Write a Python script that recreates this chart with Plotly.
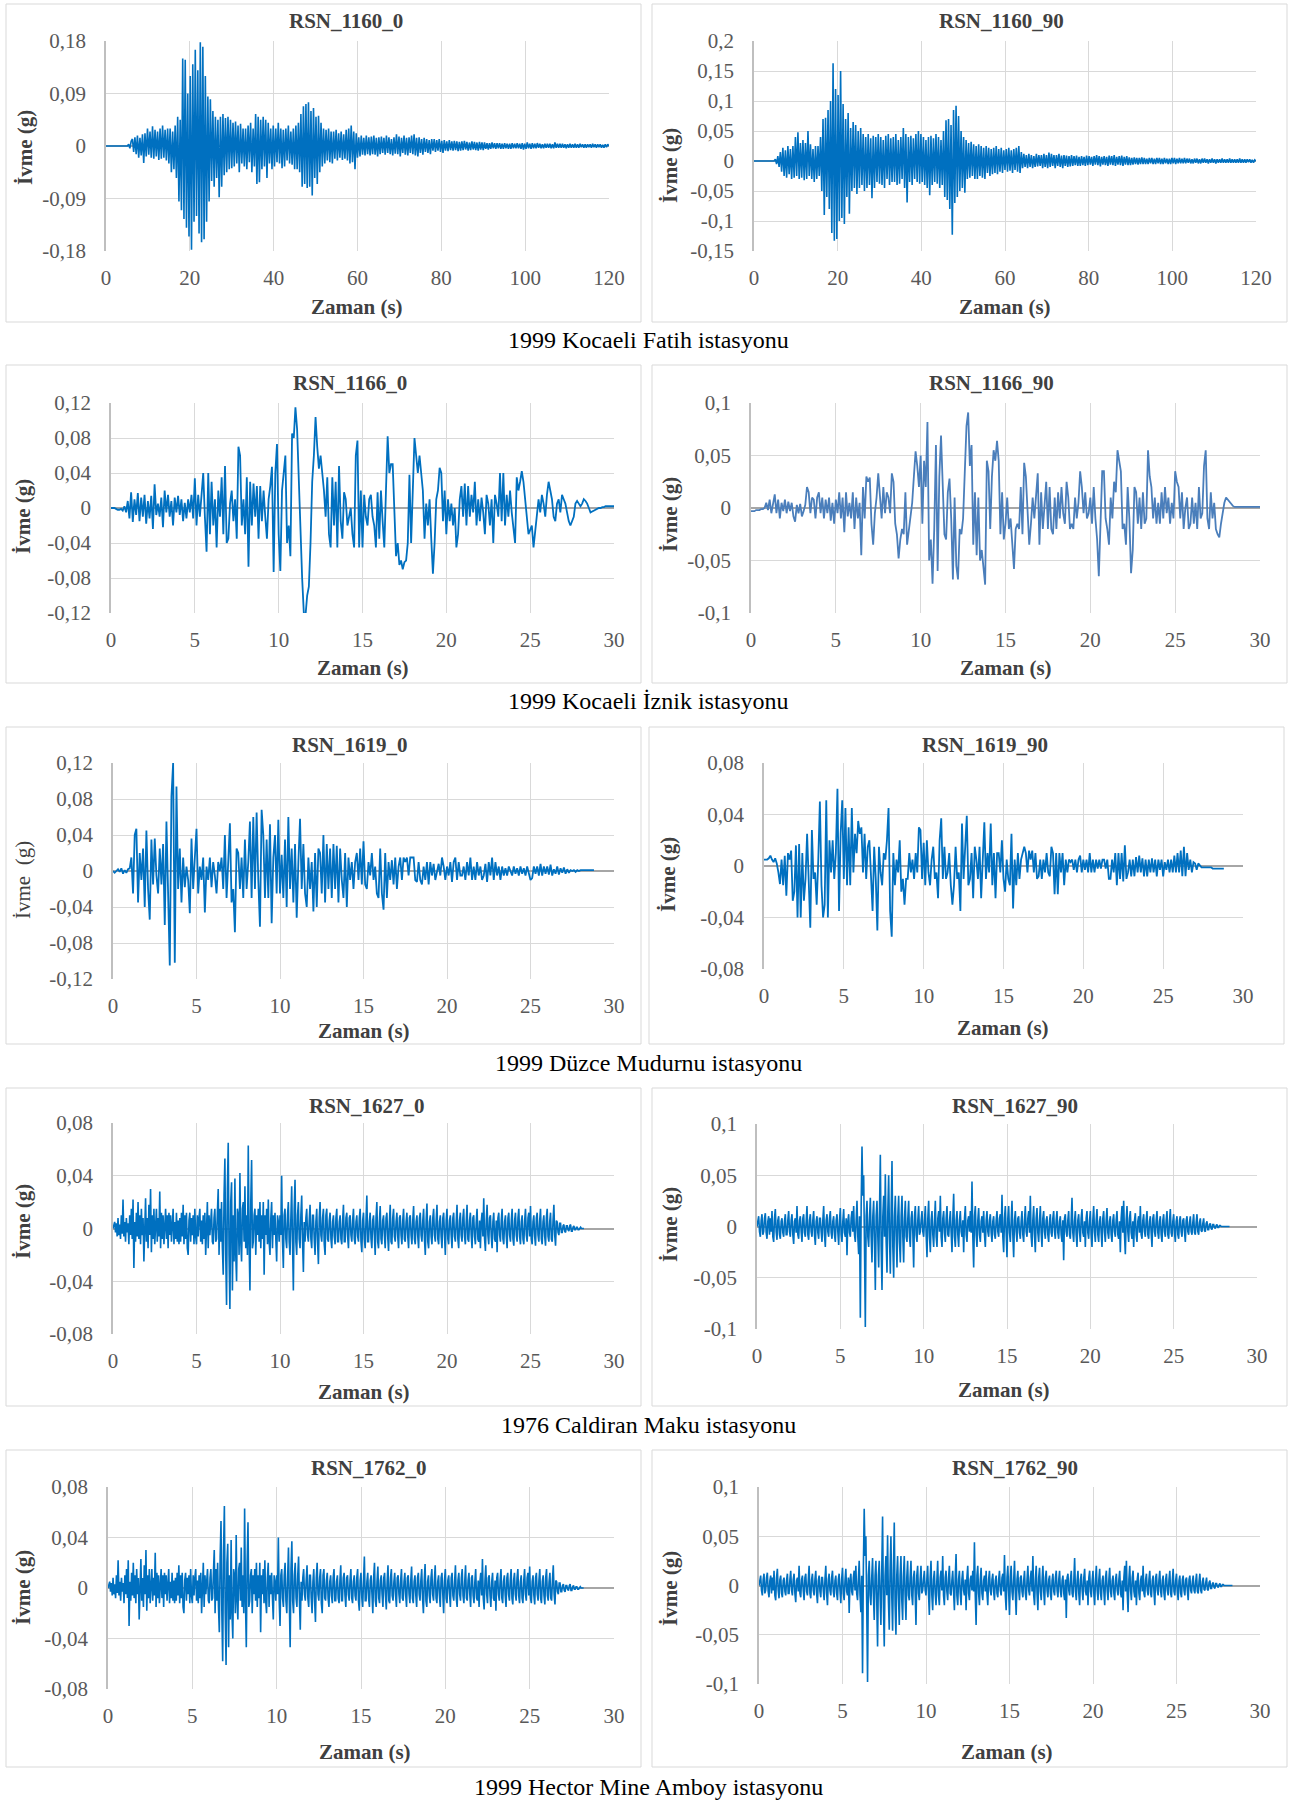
import plotly.graph_objects as go

W, H = 1298, 1803

# ---------------- DATA (acceleration in thousandths of g) ----------------
DT_1160 = 0.3   # s, sampling step used for the 120 s records
DT_30S = 0.1    # s, sampling step used for the 30 s records (1166, 1619)
DT_FINE = 0.05  # s, sampling step used for the 1627 / 1762 records

acc_1160_0 = [
    0, 0, 0, 0, 0, 0, 0, 0, 0, 0,
    0, 0, 0, 0, 0, 0, 0, 0,
    3, -4, 8,
    12, -10, 15, -14, 18, -20, 14, -16, 20, -29,
    22, -18, 30, -15, 25, -20, 34, -22, 28, -18,
    25, -24, 30, -22, 35, -20, 28, -25, 30, -30,
    30, -45, 25, -40, 35, -55, 50, -95, 45, -110,
    150, -125, 148, -140, 90, -155, 120, -178, 140, -130,
    165, -120, 130, -150, 178, -165, 170, -160, 120, -130,
    85, -95, 80, -60, 60, -70, 50, -55, 45, -88,
    50, -70, 55, -50, 48, -45, 50, -40, 45, -38,
    40, -35, 42, -30, 35, -45, 38, -30, 30, -35,
    30, -40, 35, -28, 40, -45, 30, -35, 55, -65,
    50, -62, 45, -40, 50, -35, 45, -55, 40, -30,
    30, -40, 35, -35, 30, -28, 40, -30, 30, -38,
    28, -35, 30, -25, 35, -30, 25, -32, 30, -40,
    35, -40, 40, -45, 55, -70, 68, -65, 72, -72,
    75, -70, 60, -85, 65, -55, 50, -65, 52, -45,
    40, -35, 30, -30, 28, -25, 30, -28, 25, -30,
    25, -22, 28, -25, 22, -20, 25, -24, 20, -22,
    28, -25, 30, -30, 35, -28, 25, -40, 22, -20,
    15, -18, 18, -15, 14, -16, 18, -14, 15, -16,
    16, -14, 18, -15, 14, -18, 15, -14, 16, -12,
    14, -15, 18, -12, 15, -14, 12, -16, 15, -13,
    20, -14, 16, -18, 14, -12, 18, -15, 14, -16,
    15, -12, 18, -14, 20, -16, 14, -18, 15, -12,
    12, -15, 14, -10, 12, -12, 10, -14, 12, -8,
    12, -10, 10, -8, 12, -10, 9, -12, 10, -8,
    8, -9, 10, -7, 8, -8, 9, -7, 8, -9,
    7, -8, 8, -7, 9, -6, 7, -8, 6, -7,
    8, -6, 7, -7, 6, -8, 7, -6, 6, -7,
    6, -5, 5, -6, 5, -5, 6, -4, 5, -5,
    5, -4, 5, -5, 4, -5, 5, -4, 4, -5,
    4, -5, 5, -4, 4, -4, 5, -4, 4, -5,
    5, -6, 4, -5, 6, -4, 4, -5, 5, -4,
    4, -4, 5, -3, 4, -4, 3, -4, 4, -3,
    4, -3, 4, -4, 3, -4, 6, -3, 4, -3,
    4, -3, 4, -3, 3, -4, 3, -3, 4, -3,
    3, -3, 4, -3, 3, -3, 4, -2, 3, -3,
    3, -3, 3, -2, 3, -3, 4, -2, 3, -3,
    3, -2, 3, -3, 2, -3, 3, -2, 3, 0,
]

acc_1160_90 = [
    0, 0, 0, 0, 0, 0, 0, 0, 0, 0,
    0, 0, 0, 0, 0, 0, 0,
    3, -5, 8, -10,
    15, -18, 22, -25, 18, -28, 25, -22, 20, -30,
    25, -28, 40, -25, 48, -30, 30, -28, 35, -32,
    30, -30, 50, -25, 28, -30, 20, -35, 25, -30,
    25, -25, 40, -50, 70, -90, 72, -60, 85, -80,
    100, -120, 163, -133, 120, -130, 110, -100, 150, -95,
    95, -105, 70, -60, 80, -88, 55, -50, 65, -45,
    60, -55, 50, -45, 55, -40, 45, -50, 40, -45,
    45, -40, 38, -62, 42, -45, 40, -35, 45, -38,
    40, -40, 35, -45, 42, -30, 45, -40, 38, -35,
    40, -35, 45, -40, 35, -38, 40, -30, 55, -45,
    45, -69, 40, -35, 42, -40, 38, -30, 45, -35,
    50, -38, 45, -35, 40, -40, 35, -45, 40, -57,
    42, -40, 38, -35, 45, -38, 40, -45, 35, -40,
    50, -60, 68, -65, 70, -80, 60, -123, 85, -70,
    92, -60, 75, -50, 50, -45, 40, -53, 35, -30,
    30, -28, 32, -25, 28, -30, 25, -30, 28, -25,
    25, -28, 22, -30, 25, -20, 22, -25, 20, -22,
    22, -20, 25, -22, 20, -18, 22, -20, 18, -15,
    20, -18, 22, -16, 18, -20, 20, -15, 22, -18,
    25, -20, 15, -12, 12, -10, 10, -12, 12, -10,
    10, -12, 8, -10, 12, -9, 10, -8, 10, -12,
    12, -10, 10, -12, 14, -10, 12, -8, 10, -12,
    10, -8, 12, -10, 9, -12, 10, -8, 9, -10,
    8, -9, 10, -8, 8, -7, 9, -8, 7, -8,
    8, -7, 7, -8, 9, -7, 8, -6, 7, -8,
    8, -6, 10, -7, 8, -9, 7, -6, 8, -7,
    7, -8, 9, -6, 8, -7, 10, -8, 7, -6,
    8, -7, 9, -8, 7, -6, 8, -7, 6, -7,
    5, -6, 6, -5, 5, -6, 5, -5, 6, -5,
    5, -5, 4, -5, 5, -4, 5, -5, 4, -5,
    5, -4, 5, -5, 4, -5, 5, -4, 4, -5,
    4, -5, 5, -4, 5, -5, 4, -4, 5, -4,
    4, -4, 5, -4, 4, -3, 4, -4, 3, -4,
    4, -3, 4, -4, 3, -4, 4, -3, 4, -3,
    3, -4, 3, -3, 4, -3, 3, -4, 3, -3,
    3, -3, 4, -3, 3, -3, 3, -3, 4, -3,
    3, -3, 3, -3, 3, -3, 4, -3, 3, -3,
    3, -3, 3, -2, 3, -3, 2, -3, 2, 0,
]

acc_1166_0 = [
    0, 0, 0, -1, -2, -2, -1, -3, 2, -5,
    8, -12, 18, -16, 10, -8, 17, -15, 12, -10,
    15, -18, 8, -12, 14, -24, 27, -8, 5, -10,
    12, -22, 20, -5, 15, -10, 8, -20, 12, -5,
    14, -8, 10, -15, 6, -12, 10, -5, 15, -12,
    34, -20, 15, -10, 20, 40, -10, -50, 40, -30,
    30, -20, 10, -45, 20, -10, 35, -30, 48, -40,
    -35, 5, 20, -15, 10, -35, 70, 60, -20, 10,
    -30, 35, -67, 30, -20, 28, -10, 25, -35, 25,
    -15, 20, -10, -35, 10, 25, 47, -73, 40, 73,
    -30, -72, 20, 40, 60, -40, -20, -55, 85, 80,
    115, 90, 30, -40, -80, -120, -123, -100, -90, -40,
    30, 60, 104, 70, 45, 60, 40, 20, -10, 35,
    -30, -45, 35, -20, 30, -45, 48, -15, -35, 18,
    10, -20, -10, 0, -30, -45, 60, 77, -45, 20,
    -45, 15, -10, -20, 10, 15, -10, -20, -45, 18,
    -35, 20, -15, -45, 20, 82, 40, 50, 50, -15,
    -55, -40, -65, -60, -70, -62, -60, -40, 38, -40,
    30, 80, 60, 40, 60, 40, 20, -35, 5, -20,
    10, -35, -75, -40, 10, 20, 46, 40, -15, 20,
    -30, 10, -15, 5, -20, 0, -45, -30, 10, 25,
    -10, 28, -20, 25, -10, 15, -5, 30, -20, 10,
    -15, 12, -5, -30, 15, 5, -20, 10, -40, 15,
    5, -10, 40, -15, 40, -20, 15, -10, 20, -5,
    -20, -40, 35, 20, 30, 42, 30, 10, -15, -30,
    -25, -20, -45, -25, -10, 10, -5, 15, 5, -10,
    15, 30, 20, 10, -10, -15, 5, 10, -5, 15,
    10, 5, -5, -15, -20, -15, -10, 5, 8, 5,
    2, 5, 10, 8, 5, 0, -5, -4, -3, -2,
    -1, 0, 0, 1, 1, 2, 2, 2, 2, 2,
    2,
]

acc_1166_90 = [
    -3, -3, -3, -2, -2, -2, -1, -1, 0, 5,
    -2, 8, -5, 5, 13, -5, 8, -10, 5, -3,
    8, -5, 6, -3, 5, -8, -13, 3, -5, 4,
    -8, -3, 3, 20, 15, -5, 10, 8, -10, 10,
    15, -5, 10, -10, 8, -5, 10, -12, 5, -15,
    8, -5, 15, -10, 10, -23, 15, -8, 5, -10,
    15, -20, 10, -10, 5, -45, 20, -10, 30, 25,
    29, -15, -35, -5, 10, 33, 10, -10, 20, -5,
    15, 10, -5, 33, 25, -15, -25, -48, -30, -20,
    -25, 15, -35, -20, -5, 5, 30, 54, 40, 20,
    50, -15, 45, 20, 82, -50, -30, -72, -20, 60,
    -60, 30, 69, 30, -25, -30, 15, 28, -10, -68,
    10, -55, -68, -20, -25, -10, 30, 78, 91, 40,
    60, -35, 15, -45, 10, -50, -40, -60, -73, 45,
    35, -20, 30, 55, 45, 64, 45, -25, 15, -30,
    -15, 10, -20, -10, -35, -58, -20, -15, -20, 20,
    -25, 43, 30, -10, -35, -15, 10, -10, 15, 33,
    -35, 15, -20, 5, 25, -20, 20, -20, -25, 10,
    -20, 15, -10, 20, -5, -15, 25, 10, -20, -15,
    -20, 10, -10, 5, 35, 20, -5, 15, -10, -5,
    10, -15, 20, -10, -30, -65, -20, 35, 35, -10,
    -20, -35, 10, -10, 25, 15, 55, 45, 35, -20,
    -15, -35, 20, -10, -62, -40, 20, 15, -15, 10,
    -20, 15, -15, -10, 55, 30, 20, -10, 10, -15,
    5, -15, 15, -10, 20, -5, 10, -15, 5, -10,
    35, 25, 20, -10, 15, -20, 0, 10, -20, -15,
    10, -15, 5, -20, 20, -10, -5, 40, 55, -10,
    -20, 15, -10, 5, -20, -25, -28, -15, -5, 5,
    10, 8, 5, 3, 2, 1, 1, 1, 1, 1,
    1, 1, 1, 1, 1, 1, 1, 1, 1, 1,
    1,
]

acc_1619_0 = [
    0, -2, 0, 2, -1, 3, -3, 1, -2, 2,
    3, 15, -25, 40, 47, -35, 20, -10, 25, -40,
    45, -20, -54, 35, -15, 36, -5, -25, 25, -15,
    30, -60, 55, -30, -105, 83, 120, -102, 94, -20,
    25, -35, 15, -18, 5, -10, -47, 36, -20, 15,
    47, -25, 5, -10, 15, -46, 5, -10, 15, -18,
    10, -5, -25, 10, 0, 15, -20, 40, -30, 10,
    53, -35, -20, -68, 25, 20, -20, 15, -30, 35,
    -20, 10, 55, -30, 60, -20, 65, -10, -62, 68,
    40, -30, 35, -30, 52, -58, 15, 40, -25, 57,
    -25, 18, -30, 35, -40, 60, -20, 25, -35, 30,
    -52, 10, 58, -20, 30, -25, -40, 15, -20, 10,
    -45, 20, -40, 25, 20, -25, 40, -35, 30, -20,
    25, -30, 30, -20, 28, -35, 25, -10, -30, 20,
    -40, 15, -10, 10, -20, 10, 20, -10, 25, -15,
    33, -15, -20, 10, -5, 20, -10, 5, -25, -30,
    25, -25, -43, 20, -30, 10, -10, 12, -15, 15,
    -20, 5, 15, -10, 15, 10, 15, -5, 15, 15,
    15, -10, -12, 10, -10, -15, 5, -10, 10, -15,
    10, -5, 8, -10, 0, 8, -5, 15, 5, -10,
    5, -5, 10, -12, 10, 15, -10, 10, -5, -5,
    5, -10, 10, -5, 15, -10, 5, -10, 10, -5,
    5, -10, -5, 8, -12, 10, -5, 15, -10, 10,
    -5, 5, -10, 5, -5, 3, -5, 5, 0, -5,
    5, -3, 3, -5, 5, -3, 3, -5, 5, -3,
    -10, -8, 5, -3, 5, -5, 8, -5, 5, -3,
    5, -4, 7, -5, 2, -3, 5, -4, 3, -2,
    4, -3, 2, -2, 1, 0, 1, -1, 1, 0,
    1, 1, 1, 1, 1, 1, 1, 1, 1,
]

acc_1619_90 = [
    5, 5, 5, 6, 8, 5, 3, 6, 2, -5,
    -14, 5, -15, 8, -23, 10, 5, 12, -27, -20,
    16, -40, 17, -40, 10, -27, -10, 25, -5, -48,
    28, -10, -5, -30, 5, 50, -15, -40, -30, 51,
    -40, 20, -5, 20, -10, 10, 60, -35, 25, 51,
    -10, 45, -15, 30, -15, 45, -5, 25, 10, 35,
    25, 30, -5, 25, -10, 15, 20, -10, -35, 15,
    -10, -50, 15, -5, -15, 10, 5, 20, 45, -35,
    -55, 10, -15, 5, -5, 20, -20, -10, -30, -10,
    -10, 10, -5, 5, -10, 10, -5, 30, 28, -10,
    18, -15, 20, -5, -15, 5, 15, -10, -5, -25,
    20, 37, -10, 15, -10, -5, 10, -15, -30, -15,
    15, -10, -5, -35, 33, -10, 15, 39, -15, -10,
    10, -25, 15, 5, -10, 15, -25, 5, 34, -10,
    10, -5, 33, -15, 10, -25, 10, 10, -5, 20,
    -10, -20, 5, -10, -15, 25, -33, 5, -15, 10,
    -10, 5, 10, 15, 10, -5, 12, 5, 12, -5,
    10, -10, -8, 5, -10, 5, -5, 10, -5, -8,
    15, 10, -22, 10, -22, 10, -5, 10, -15, 5,
    -5, 5, 3, 5, -3, 5, -5, 5, 8, -5,
    5, -3, 5, -5, 10, -5, 5, -5, 5, -2,
    5, -2, 5, 5, -2, 5, -10, -10, 5, -5,
    10, -15, 10, -10, 10, -12, 16, -10, -5, 5,
    -8, 5, -8, 7, -5, 8, -5, 6, -8, 5,
    -8, 5, -5, 6, -5, 5, -8, 5, -3, 5,
    -8, 3, -3, 5, -5, 5, -5, 8, -5, 10,
    -5, 12, -8, 15, -8, 10, -3, 5, -5, 3,
    2, -3, 2, 0, -1, -1, -1, -1, -1, -1,
    -1, -2, -2, -2, -2, -2, -2, -2, -2,
]

acc_1627_0 = [
    0, 3, 5, -3, 4, -6, 8, -5, 3, -8, 10, -4, 22, -6, 5, -10, 8, -3, 4, -12,
    10, -5, 15, -8, 22, -30, 5, -10, 12, -6, 20, -8, 10, -12, 15, -5, 8, -25, 12, 23,
    -10, 8, -15, 18, -5, 30, -18, 10, -8, 15, -12, 6, 15, -10, 8, -6, 28, -15, 12, -8,
    10, -12, 6, 15, -8, 10, -15, 12, -5, 10, -10, 8, 15, -12, 5, -8, 12, -10, 6, -12,
    8, -10, 12, -6, 18, -12, 10, -8, 12, -15, -20, 6, 12, -10, 8, -5, 10, -12, 15, -6,
    -12, 10, -6, 8, 15, -10, 6, -12, 10, -8, 12, -20, 8, 20, -15, 10, -5, 8, 15, -10,
    -12, 8, 15, -10, -8, 12, 30, -20, 15, -10, 20, -15, -35, 25, 53, -20, -58, 30, 65, -20,
    -61, 20, 35, -47, 10, -25, 38, -20, -40, 15, 10, -20, 42, -10, -25, 15, 20, -10, 32, -15,
    10, -20, 63, -10, -47, 20, 52, -15, -10, 10, 15, -20, 10, -5, 15, -10, 20, -15, 10, -8,
    20, -35, 10, -5, 15, -12, 22, -10, -20, 8, 20, -15, 10, -5, 12, -8, -25, 10, 5, -10,
    10, -5, 40, -10, -30, 10, 15, -8, -15, 10, 20, -10, -20, 8, 32, -10, -47, 15, 37, -10,
    -20, 10, 20, -8, -15, 10, 25, -10, -33, 5, -10, 8, 15, -5, -10, 6, 18, -8, -15, 10,
    10, -8, -20, 5, 15, -10, -27, 8, 20, -5, -10, 8, 15, -12, -20, 10, 15, -8, -10, 6,
    12, -8, -15, 5, 10, -6, -12, 8, 15, -10, -10, 5, 10, -8, -12, 6, 18, -10, -10, 8,
    12, -6, -15, 8, 10, -5, -10, 6, 15, -8, -12, 5, 10, -6, -10, 8, 15, -10, -18, 6,
    12, -8, -15, 6, 25, -10, -10, 5, 12, -8, -15, 6, 10, -5, -20, 8, 20, -10, -15, 5,
    17, -8, -12, 6, 10, -5, -15, 8, 12, -6, -17, 5, 18, -10, -12, 8, 15, -6, -10, 5,
    12, -6, -15, 8, 10, -5, -12, 6, 15, -8, -10, 5, 12, -6, -15, 8, 10, -5, -12, 6,
    17, -8, -12, 5, 10, -6, -15, 8, 12, -5, -10, 6, 15, -8, -20, 6, 19, -10, -15, 5,
    10, -6, -12, 8, 15, -5, -10, 6, 18, -8, -12, 5, 10, -6, -15, 8, 12, -5, -20, 6,
    15, -8, -12, 6, 10, -5, -15, 8, 12, -6, -10, 5, 18, -8, -15, 6, 12, -5, -10, 8,
    15, -6, -12, 5, 18, -8, -10, 6, 12, -5, -15, 8, 10, -6, -12, 5, 15, -8, -10, 6,
    -15, 5, 12, -6, 23, -8, -17, 6, 18, -5, -12, 8, 10, -6, -15, 5, 12, -8, -10, 6,
    -18, 8, 12, -5, -10, 6, 15, -8, -12, 5, 10, -6, -15, 8, 12, -5, -10, 6, 15, -8,
    -13, 6, 12, -5, -10, 8, 15, -6, -12, 5, 10, -8, -12, 6, 15, -5, -10, 8, 12, -6,
    17, -8, -12, 5, 10, -6, -13, 8, 12, -5, -10, 6, 15, -8, -12, 5, 10, -6, -13, 8,
    15, -6, -10, 5, 12, -8, -10, 6, 18, -5, -13, 6, 5, -3, -5, 4, 4, -3, -3, 2,
    3, -2, -3, 2, 2, -1, -2, 2, 3, -2, -2, 1, 2, -1, -1, 1, 1, -1, -1, 0,
    1, 0, 0, 0, 0,
]

acc_1627_90 = [
    0, 5, 10, -5, -10, 6, 12, -8, -5, 8, 13, -6, -12, 5, 10, -8, 8, -5, 15, -10,
    -15, 8, 17, -5, -13, 6, 10, -8, -12, 5, 8, -6, -10, 5, 12, -8, -8, 6, 15, -5,
    -10, 6, 12, -8, -17, 5, 8, -6, 20, -8, -12, 6, 10, -5, -15, 8, 12, -6, -10, 5,
    20, -8, -13, 6, 12, -5, -10, 6, 15, -8, -18, 5, 10, -6, -12, 8, 8, -5, -15, 6,
    20, -8, -20, 6, 12, -5, -10, 8, 15, -6, -12, 5, 10, -8, -15, 6, 12, -5, -18, 6,
    18, -8, -15, 5, 17, -6, -10, 8, -28, 5, 12, -6, -10, 8, 15, -5, 20, -8, -15, 6,
    25, -10, -27, 10, -89, 20, 78, 30, 50, -20, -98, 10, 25, -10, -20, 8, 28, -10, -35, 10,
    25, -15, -62, 10, 25, -10, -40, 15, 70, -20, -62, 10, 30, -10, 51, -15, -45, 15, 50, -10,
    -46, 15, 64, -20, -50, 10, 30, -10, -40, 10, 30, -15, -35, 10, 30, -10, -35, 8, 25, -10,
    -15, 8, 25, -10, -20, 8, 15, -6, -40, 10, 20, -8, -15, 6, 20, -8, -5, 6, 15, -5,
    -10, 6, 20, -8, -30, 8, 25, -10, -25, 6, 15, -8, -20, 5, 25, -10, -20, 8, 15, -5,
    30, -10, -20, 8, 15, -6, -15, 8, 20, -8, -10, 5, 15, -6, -25, 8, 32, -10, -20, 6,
    15, -8, -20, 6, 15, -5, -10, 6, -25, 8, 20, -8, -15, 6, 10, -5, 15, -6, 44, -10,
    -40, 10, 20, -8, -20, 6, 18, -8, -15, 5, 10, -6, 15, -8, -20, 6, 15, -5, -10, 6,
    12, -6, -15, 5, 10, -8, -12, 6, 15, -5, -10, 8, 12, -6, 31, -10, -25, 8, 20, -6,
    -30, 8, 20, -6, -15, 5, 25, -8, -30, 6, 15, -5, -15, 8, 10, -6, -12, 5, 15, -8,
    -15, 6, 20, -5, -10, 8, 15, -6, 30, -10, -20, 6, 20, -8, -25, 8, 18, -6, -15, 5,
    20, -6, -20, 8, 15, -5, -12, 6, 10, -8, -15, 5, 12, -6, -10, 8, 15, -5, -12, 6,
    15, -6, -12, 5, 10, -8, -15, 6, -33, 8, 12, -5, -10, 6, 15, -8, -12, 5, 28, -6,
    -15, 5, 15, -8, -20, 6, 12, -5, -15, 8, 17, -6, -10, 5, -20, 8, 15, -6, -12, 5,
    15, -8, -20, 6, 20, -5, -15, 6, 17, -8, -15, 5, 10, -6, -20, 8, 15, -5, -15, 6,
    18, -6, -12, 5, 10, -8, -15, 6, 12, -5, -10, 6, 15, -8, -12, 5, -25, 8, 20, -6,
    25, -8, -27, 6, 20, -5, -15, 8, 15, -6, -12, 5, -20, 6, 13, -8, -15, 5, 10, -6,
    20, -8, -12, 6, 12, -5, -10, 6, 15, -8, -12, 5, 10, -6, -20, 8, 12, -5, -10, 6,
    15, -6, -12, 5, 10, -8, -15, 6, 12, -5, -10, 6, 15, -8, -12, 5, 17, -6, -10, 5,
    12, -6, -15, 5, 10, -8, -12, 6, 10, -5, -10, 6, 8, -5, -15, 6, 10, -5, -8, 4,
    10, -5, -8, 4, 12, -6, -8, 4, 12, -5, -8, 4, 8, -4, -5, 3, 8, -4, -5, 3,
    5, -3, -3, 2, 3, -2, -3, 2, 2, -1, -2, 1, 2, -1, -1, 1, 1, 0, 0, 0,
    0, 0, 0, 0, 0, 0, 0, 0,
]

# The 1999 Hector Mine Amboy records are drawn identical to the Caldiran Maku ones
acc_1762_0 = list(acc_1627_0)
acc_1762_90 = list(acc_1627_90)

# ---------------- TICKS / TEXT ----------------
x_ticks_120 = [0, 20, 40, 60, 80, 100, 120]
x_ticks_30 = [0, 5, 10, 15, 20, 25, 30]

y_ticks_018 = [-0.18, -0.09, 0, 0.09, 0.18]
y_text_018 = ["-0,18", "-0,09", "0", "0,09", "0,18"]
y_ticks_020 = [-0.15, -0.1, -0.05, 0, 0.05, 0.1, 0.15, 0.2]
y_text_020 = ["-0,15", "-0,1", "-0,05", "0", "0,05", "0,1", "0,15", "0,2"]
y_ticks_012 = [-0.12, -0.08, -0.04, 0, 0.04, 0.08, 0.12]
y_text_012 = ["-0,12", "-0,08", "-0,04", "0", "0,04", "0,08", "0,12"]
y_ticks_010 = [-0.1, -0.05, 0, 0.05, 0.1]
y_text_010 = ["-0,1", "-0,05", "0", "0,05", "0,1"]
y_ticks_008 = [-0.08, -0.04, 0, 0.04, 0.08]
y_text_008 = ["-0,08", "-0,04", "0", "0,04", "0,08"]

panel_titles = ["RSN_1160_0", "RSN_1160_90", "RSN_1166_0", "RSN_1166_90",
                "RSN_1619_0", "RSN_1619_90", "RSN_1627_0", "RSN_1627_90",
                "RSN_1762_0", "RSN_1762_90"]
captions = ["1999 Kocaeli Fatih istasyonu", "1999 Kocaeli İznik istasyonu",
            "1999 Düzce Mudurnu istasyonu", "1976 Caldiran Maku istasyonu",
            "1999 Hector Mine Amboy istasyonu"]
x_title = "Zaman (s)"
y_title = "İvme (g)"

# ---------------- STYLE / LAYOUT (page pixels) ----------------
FONT = "Liberation Serif"
BLUE = "#0070C0"
BLUE2 = "#4A7EBB"

series = [acc_1160_0, acc_1160_90, acc_1166_0, acc_1166_90, acc_1619_0,
          acc_1619_90, acc_1627_0, acc_1627_90, acc_1762_0, acc_1762_90]
steps = [DT_1160, DT_1160, DT_30S, DT_30S, DT_30S, DT_30S,
         DT_FINE, DT_FINE, DT_FINE, DT_FINE]
xticks = [x_ticks_120, x_ticks_120] + [x_ticks_30] * 8
yticks = [(y_ticks_018, y_text_018), (y_ticks_020, y_text_020),
          (y_ticks_012, y_text_012), (y_ticks_010, y_text_010),
          (y_ticks_012, y_text_012), (y_ticks_008, y_text_008),
          (y_ticks_008, y_text_008), (y_ticks_010, y_text_010),
          (y_ticks_008, y_text_008), (y_ticks_010, y_text_010)]
colors = [BLUE, BLUE, BLUE, BLUE2, BLUE, BLUE, BLUE, BLUE, BLUE, BLUE]
widths = [1.6, 1.6, 1.8, 1.8, 1.8, 1.8, 1.6, 1.6, 1.6, 1.6]

# plot area: (left, right, top, bottom)
plot_px = [(106, 609, 41, 251), (754, 1256, 41, 251),
           (111, 614, 403, 613), (751, 1260, 403, 613),
           (113, 614, 763, 979), (764, 1243, 763, 969),
           (113, 614, 1123, 1334), (757, 1257, 1124, 1329),
           (108, 614, 1487, 1689), (759, 1260, 1487, 1684)]
# outer box: (left, right, top, bottom)
box_px = [(6, 641, 4, 322), (652, 1287, 4, 322),
          (6, 641, 365, 683), (652, 1287, 365, 683),
          (6, 641, 727, 1044), (649, 1284, 727, 1044),
          (6, 641, 1088, 1406), (652, 1287, 1088, 1406),
          (6, 641, 1450, 1767), (652, 1287, 1450, 1767)]
title_px = [(346, 21), (1001, 21), (350, 383), (991, 383), (350, 745),
            (985, 745), (367, 1106), (1015, 1106), (369, 1468), (1015, 1468)]
xtitle_px = [(357, 307), (1005, 307), (363, 668), (1006, 668), (364, 1031),
             (1003, 1028), (364, 1392), (1004, 1390), (365, 1752), (1007, 1752)]
ytitle_px = [(25, 148), (670, 166), (23, 517), (670, 515), (23, 880),
             (668, 875), (23, 1222), (670, 1225), (23, 1588), (670, 1589)]
caption_px = [(648, 340), (648, 701), (648, 1063), (648, 1425), (648, 1787)]


def fx(p):
    return p / W


def fy(p):
    return 1 - p / H


fig = go.Figure()
layout = dict(
    template="none",
    width=W, height=H,
    margin=dict(l=0, r=0, t=0, b=0, pad=0, autoexpand=False),
    paper_bgcolor="white", plot_bgcolor="white",
    showlegend=False, hovermode=False,
    font=dict(family=FONT, color="#595959"),
)
shapes = []
annotations = []

for k in range(10):
    n = k + 1
    xa = "xaxis" if n == 1 else f"xaxis{n}"
    ya = "yaxis" if n == 1 else f"yaxis{n}"
    xr = "x" if n == 1 else f"x{n}"
    yr = "y" if n == 1 else f"y{n}"
    L, R, T, B = plot_px[k]
    tv, tt = yticks[k]
    xt = xticks[k]
    vals = series[k]
    dt = steps[k]
    t = [i * dt for i in range(len(vals))]
    a = [v / 1000.0 for v in vals]

    fig.add_trace(go.Scatter(
        x=t, y=a, mode="lines", xaxis=xr, yaxis=yr,
        line=dict(color=colors[k], width=widths[k]), hoverinfo="skip",
        showlegend=False))

    layout[xa] = dict(
        domain=[fx(L), fx(R)], anchor=yr, range=[xt[0], xt[-1]],
        automargin=False,
        tickmode="array", tickvals=xt, ticktext=[str(v) for v in xt],
        showgrid=True, gridcolor="#D9D9D9", gridwidth=1,
        zeroline=False, showline=False, ticks="",
        ticklabelstandoff=12,
        tickfont=dict(family=FONT, size=21, color="#595959"),
        fixedrange=True)
    layout[ya] = dict(
        domain=[fy(B), fy(T)], anchor=xr, range=[tv[0], tv[-1]],
        automargin=False,
        tickmode="array", tickvals=tv, ticktext=tt,
        showgrid=True, gridcolor="#D9D9D9", gridwidth=1,
        zeroline=True, zerolinecolor="#A6A6A6", zerolinewidth=2,
        showline=True, linecolor="#BFBFBF", linewidth=1.5, ticks="",
        ticklabelstandoff=14,
        tickfont=dict(family=FONT, size=21, color="#595959"),
        fixedrange=True)

    bl, br, bt, bb = box_px[k]
    shapes.append(dict(type="rect", xref="paper", yref="paper",
                       x0=fx(bl), x1=fx(br), y0=fy(bb), y1=fy(bt),
                       line=dict(color="#D9D9D9", width=1), layer="below"))

    tx, ty = title_px[k]
    annotations.append(dict(
        x=fx(tx), y=fy(ty), xref="paper", yref="paper", showarrow=False,
        xanchor="center", yanchor="middle", text=f"<b>{panel_titles[k]}</b>",
        font=dict(family=FONT, size=21, color="#404040")))
    xx, xy = xtitle_px[k]
    annotations.append(dict(
        x=fx(xx), y=fy(xy), xref="paper", yref="paper", showarrow=False,
        xanchor="center", yanchor="middle", text=f"<b>{x_title}</b>",
        font=dict(family=FONT, size=21, color="#404040")))
    yx, yy = ytitle_px[k]
    if n == 5:
        ytxt = y_title.replace(" ", "\u00a0\u00a0")
    else:
        ytxt = f"<b>{y_title}</b>"
    annotations.append(dict(
        x=fx(yx), y=fy(yy), xref="paper", yref="paper", showarrow=False,
        xanchor="center", yanchor="middle", textangle=-90, text=ytxt,
        font=dict(family=FONT, size=21, color="#404040")))

for c, (cx, cy) in zip(captions, caption_px):
    annotations.append(dict(
        x=fx(cx), y=fy(cy), xref="paper", yref="paper", showarrow=False,
        xanchor="center", yanchor="middle", text=c,
        font=dict(family=FONT, size=24, color="#000000")))

layout["shapes"] = shapes
layout["annotations"] = annotations
fig.update_layout(**layout)
fig.write_html("out.html")
